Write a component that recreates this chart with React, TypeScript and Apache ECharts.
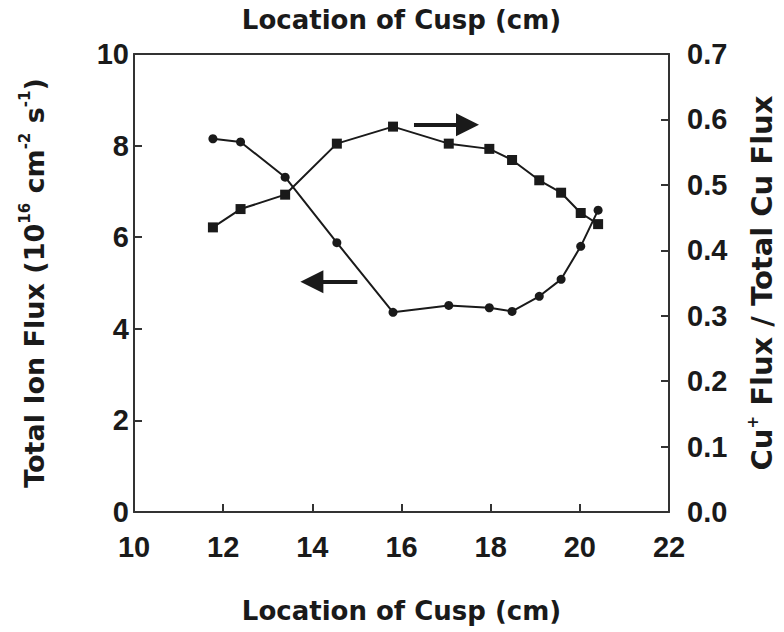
import React, { useEffect, useRef } from "react";
import * as echarts from "echarts";

const cuspLocation: number[] = [11.77, 12.39, 13.39, 14.55, 15.81, 17.06, 17.97, 18.48, 19.09, 19.58, 20.02, 20.41];
const totalIonFlux: number[] = [8.15, 8.08, 7.31, 5.88, 4.36, 4.51, 4.46, 4.38, 4.71, 5.08, 5.8, 6.59];
const cuPlusRatio: number[] = [0.435, 0.463, 0.485, 0.563, 0.589, 0.563, 0.555, 0.538, 0.507, 0.488, 0.457, 0.44];

const xTicks = { min: 10, max: 22, interval: 2 };
const leftTicks = { min: 0, max: 10, interval: 2 };
const rightTicks = { min: 0, max: 0.7, interval: 0.1 };

// annotation arrows in data coordinates: [xStart, xEnd, y]
const rightArrow: number[] = [16.28, 17.48, 0.592];
const leftArrow: number[] = [15.01, 13.99, 5.03];

const FONT = "'Liberation Sans', Arial, Helvetica, sans-serif";
const WIDE = "'DejaVu Sans', Verdana, sans-serif";
const INK = "#1a1a1a";

export default function App() {
  const ref = useRef<HTMLDivElement>(null);
  useEffect(() => {
    if (!ref.current) return;
    const chart = echarts.init(ref.current, undefined, { renderer: "svg" });
    const makeRich = (size: number) => ({
      n: { fontSize: size, fontWeight: "bold", fontFamily: WIDE, color: INK, verticalAlign: "bottom", lineHeight: size + 4 },
      s: { fontSize: 15, fontWeight: "bold", fontFamily: WIDE, color: INK, verticalAlign: "bottom", padding: [0, 0, 16, 0], lineHeight: 17 },
    });
    const labelStyle = { fontSize: 29, fontWeight: "bold", fontFamily: FONT, color: INK };
    const axisLine = { show: true, onZero: false, lineStyle: { color: "#333", width: 2 } };
    const axisTick = { show: true, inside: true, length: 8, lineStyle: { color: "#333", width: 2 } };
    const titleStyle = { fontSize: 26, fontWeight: "bold", fontFamily: WIDE, color: INK };
    const arrowMark = (a: number[]) => ({
      silent: true,
      symbol: ["none", "triangle"],
      symbolSize: 23,
      label: { show: false },
      lineStyle: { color: INK, width: 4, type: "solid" },
      data: [[{ coord: [a[0], a[2]] }, { coord: [a[1], a[2]] }]],
    });
    chart.setOption({
      animation: false,
      backgroundColor: "#ffffff",
      grid: { left: 134, right: 110, top: 54, bottom: 120, containLabel: false },
      xAxis: [
        {
          type: "value",
          position: "bottom",
          min: xTicks.min,
          max: xTicks.max,
          interval: xTicks.interval,
          axisLine,
          axisTick,
          splitLine: { show: false },
          axisLabel: { ...labelStyle, margin: 20 },
          name: "Location of Cusp (cm)",
          nameLocation: "middle",
          nameGap: 86,
          nameTextStyle: titleStyle,
        },
        {
          type: "value",
          position: "top",
          min: xTicks.min,
          max: xTicks.max,
          interval: xTicks.interval,
          axisLine,
          axisTick: { show: false },
          splitLine: { show: false },
          axisLabel: { show: false },
          name: "Location of Cusp (cm)",
          nameLocation: "middle",
          nameGap: 21,
          nameTextStyle: titleStyle,
        },
      ],
      yAxis: [
        {
          type: "value",
          position: "left",
          min: leftTicks.min,
          max: leftTicks.max,
          interval: leftTicks.interval,
          axisLine,
          axisTick,
          splitLine: { show: false },
          axisLabel: { ...labelStyle, margin: 5, padding: [10, 0, 0, 0] },
          name: "{n|Total Ion Flux (10}{s|16}{n| cm}{s|-2}{n| s}{s|-1}{n|)}",
          nameLocation: "middle",
          nameRotate: 90,
          nameGap: 86,
          nameTextStyle: { rich: makeRich(27) },
        },
        {
          type: "value",
          position: "right",
          min: rightTicks.min,
          max: rightTicks.max,
          interval: rightTicks.interval,
          axisLine,
          axisTick,
          splitLine: { show: false },
          axisLabel: { ...labelStyle, margin: 18, formatter: (v: number) => v.toFixed(1) },
          name: "{n|Cu}{s|+}{n| Flux / Total Cu Flux}",
          nameLocation: "middle",
          nameRotate: 90,
          nameGap: 74,
          nameTextStyle: { rich: makeRich(29) },
        },
      ],
      series: [
        {
          type: "line",
          name: "Total Ion Flux",
          xAxisIndex: 0,
          yAxisIndex: 0,
          data: cuspLocation.map((x, i) => [x, totalIonFlux[i]]),
          symbol: "circle",
          symbolSize: 9,
          itemStyle: { color: INK },
          lineStyle: { color: INK, width: 2 },
          markLine: arrowMark(leftArrow),
        },
        {
          type: "line",
          name: "Cu+ Ratio",
          xAxisIndex: 0,
          yAxisIndex: 1,
          data: cuspLocation.map((x, i) => [x, cuPlusRatio[i]]),
          symbol: "rect",
          symbolSize: 10,
          itemStyle: { color: INK },
          lineStyle: { color: INK, width: 2 },
          markLine: arrowMark(rightArrow),
        },
      ],
    });
    return () => chart.dispose();
  }, []);
  return <div ref={ref} style={{ width: 784, height: 632, position: "absolute", left: 0, top: 0 }} />;
}
